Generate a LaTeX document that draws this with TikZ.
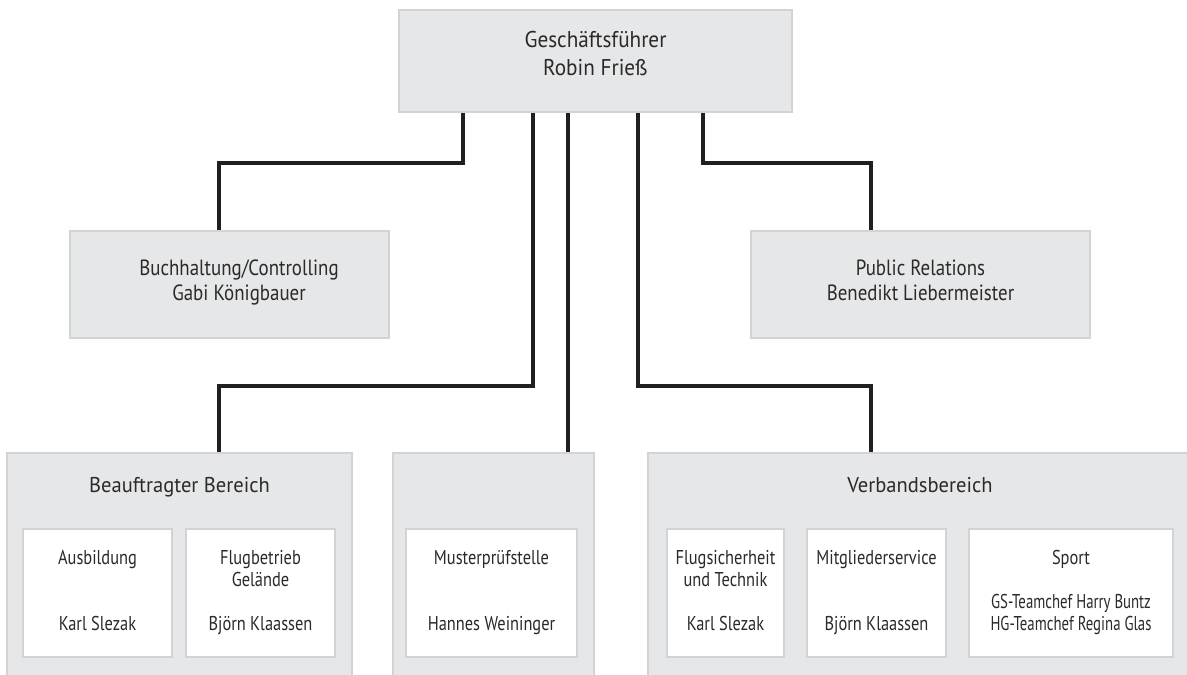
\documentclass[tikz,border=0pt]{standalone}
\usepackage{fontspec}
\setmainfont{PT Sans}
\newfontfamily\headfont[FakeStretch=0.93]{PT Sans}
\newfontfamily\midfont[FakeStretch=0.86]{PT Sans}
\newfontfamily\areafont[FakeStretch=0.96]{PT Sans}
\newfontfamily\cellfont[FakeStretch=0.82]{PT Sans}
\newfontfamily\narrowfont[FakeStretch=0.74]{PT Sans}
\usetikzlibrary{shapes, calc}
\definecolor{boxgray}{HTML}{E6E7E8}
\definecolor{edgegray}{HTML}{D1D3D4}
\definecolor{inkline}{HTML}{231F20}
\definecolor{inktext}{HTML}{2B2A29}
\tikzstyle{unit} = [rectangle, fill=boxgray, draw=edgegray, line width=1.3pt, inner sep=0pt]
\tikzstyle{subunit} = [rectangle, fill=white, draw=edgegray, line width=1.3pt, inner sep=0pt, minimum height=64pt]
\tikzstyle{link} = [line width=2.3pt, draw=inkline]
\tikzstyle{lbl} = [inner sep=0pt, anchor=base, text=inktext]
\newcommand{\headsize}{\headfont\fontsize{11.4}{13.5}\selectfont}
\newcommand{\midsize}{\midfont\fontsize{11}{12.5}\selectfont}
\newcommand{\areasize}{\areafont\fontsize{10.7}{12}\selectfont}
\newcommand{\cellsize}{\cellfont\fontsize{10}{11}\selectfont}

\begin{document}
\begin{tikzpicture}[x=0.5pt, y=-0.5pt]
\useasboundingbox (0,0) rectangle (1187,674);
\clip (0,0) rectangle (1187,674);

\node at (595.5,61) (gf) [unit, minimum width=196.5pt, minimum height=51pt] {};
\node at (229.5,284.5) (buch) [unit, minimum width=159.5pt, minimum height=53.5pt] {};
\node at (920.5,284.5) (pr) [unit, minimum width=169.5pt, minimum height=53.5pt] {};
\node at (179.5,576.5) (beauf) [unit, minimum width=172.5pt, minimum height=123.5pt] {};
\node at (493.5,576.5) (muster) [unit, minimum width=100.5pt, minimum height=123.5pt] {};
\node at (920,576.5) (verb) [unit, minimum width=272pt, minimum height=123.5pt] {};

\node at (97.5,593) (ausb) [subunit, minimum width=74.5pt] {};
\node at (260.5,593) (flug) [subunit, minimum width=74.5pt] {};
\node at (491.5,593) (mpst) [subunit, minimum width=85.5pt] {};
\node at (725.5,593) (fsich) [subunit, minimum width=58.5pt] {};
\node at (876.5,593) (mitgl) [subunit, minimum width=69.5pt] {};
\node at (1071,593) (sport) [subunit, minimum width=102pt] {};

\draw[link] (gf.south -| 463,0) -- (463,163) -| (buch.north -| 219,0);
\draw[link] (gf.south -| 703,0) -- (703,163) -| (pr.north -| 871,0);
\draw[link] (gf.south -| 533,0) -- (533,386) -| (beauf.north -| 219,0);
\draw[link] (gf.south -| 568,0) -- (muster.north -| 568,0);
\draw[link] (gf.south -| 638,0) -- (638,386) -| (verb.north -| 871,0);

\node at (595.5,48) (gftxt) [lbl] {\headsize\begin{tabular}[t]{@{}c@{}} Geschäftsführer \\ Robin Frieß \end{tabular}};
\node at (239,275) (buchtxt) [lbl] {\midsize\begin{tabular}[t]{@{}c@{}} Buchhaltung/Controlling \\ Gabi Königbauer \end{tabular}};
\node at (920.5,275) (prtxt) [lbl] {\midsize\begin{tabular}[t]{@{}c@{}} Public Relations \\ Benedikt Liebermeister \end{tabular}};
\node at (179.5,492) (beauftxt) [lbl] {\areasize Beauftragter Bereich};
\node at (920,492) (verbtxt) [lbl] {\areasize Verbandsbereich};

\node at (97.5,564) (ausbtxt) [lbl] {\cellsize Ausbildung};
\node at (97.5,630) (ausbname) [lbl] {\cellsize Karl Slezak};
\node at (260.5,564) (flugtxt) [lbl] {\cellsize\begin{tabular}[t]{@{}c@{}} Flugbetrieb \\ Gelände \end{tabular}};
\node at (260.5,630) (flugname) [lbl] {\cellsize Björn Klaassen};
\node at (491.5,564) (mpsttxt) [lbl] {\cellsize Musterprüfstelle};
\node at (491.5,630) (mpstname) [lbl] {\cellsize Hannes Weininger};
\node at (725.5,564) (fsichtxt) [lbl] {\cellsize\begin{tabular}[t]{@{}c@{}} Flugsicherheit \\ und Technik \end{tabular}};
\node at (725.5,630) (fsichname) [lbl] {\cellsize Karl Slezak};
\node at (876.5,564) (mitgltxt) [lbl] {\cellsize Mitgliederservice};
\node at (876.5,630) (mitglname) [lbl] {\cellsize Björn Klaassen};
\node at (1071,564) (sporttxt) [lbl] {\cellsize Sport};
\node at (1071,608) (sportname) [lbl] {\cellsize\narrowfont\begin{tabular}[t]{@{}c@{}} GS-Teamchef Harry Buntz \\ HG-Teamchef Regina Glas \end{tabular}};

\end{tikzpicture}
\end{document}
